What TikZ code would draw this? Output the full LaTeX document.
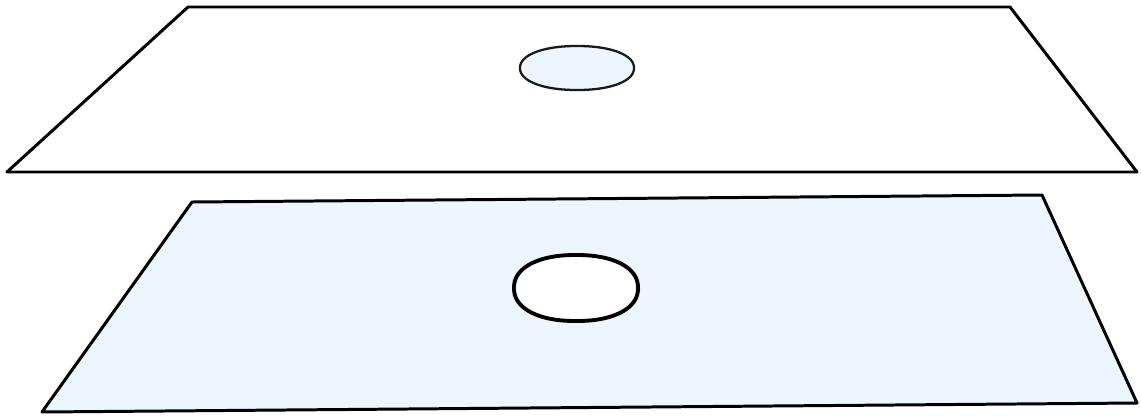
\documentclass[tikz,border=0pt]{standalone}
\usepackage{tikz}
\usetikzlibrary{positioning}

\definecolor{sheetblue}{RGB}{237,245,253}

\tikzset{
    sheet/.style={line width=1.7pt, line join=round, draw=black},
    hole/.style={line width=1.3pt, draw=black!90}
}

\begin{document}
\begin{tikzpicture}[x=0.02cm, y=-0.02cm]
    % Canvas
    \useasboundingbox (0,0) rectangle (1141,419);

    % Upper sheet corners
    \coordinate (U1) at (188,7);
    \coordinate (U2) at (1010,7);
    \coordinate (U3) at (1137,172);
    \coordinate (U4) at (7,172);

    % Lower sheet corners
    \coordinate (L1) at (192,202);
    \coordinate (L2) at (1042,195);
    \coordinate (L3) at (1137,403);
    \coordinate (L4) at (42,412);

    % Upper sheet with blue spot
    \draw[sheet, fill=white] (U1) -- (U2) -- (U3) -- (U4) -- cycle;
    \draw[hole, fill=sheetblue] plot[domain=0:360, samples=90, smooth cycle]
        ({577+57*sign(cos(\x))*abs(cos(\x))^0.93}, {68+22*sign(sin(\x))*abs(sin(\x))^0.93});

    % Lower sheet with open hole
    \draw[sheet, fill=sheetblue] (L1) -- (L2) -- (L3) -- (L4) -- cycle;
    \draw[hole, line width=2.2pt, draw=black, fill=white] plot[domain=0:360, samples=90, smooth cycle]
        ({576+62*sign(cos(\x))*abs(cos(\x))^0.9}, {288+33*sign(sin(\x))*abs(sin(\x))^0.9});
\end{tikzpicture}
\end{document}
